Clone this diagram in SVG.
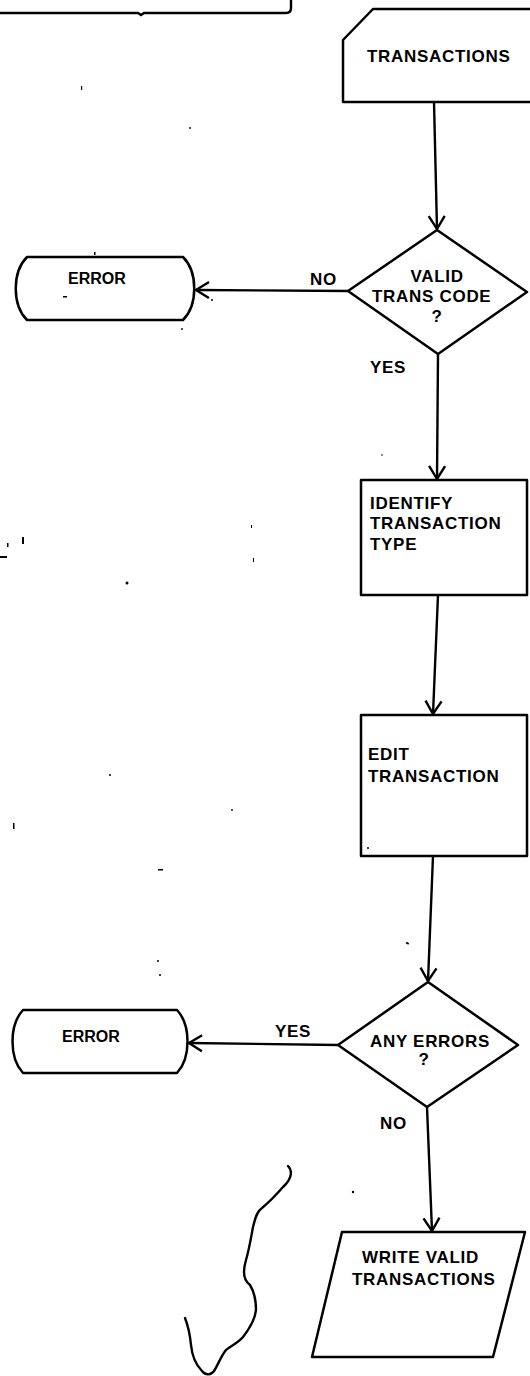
<svg xmlns="http://www.w3.org/2000/svg" width="530" height="1376" viewBox="0 0 530 1376">
<style>
.s{fill:#fff;stroke:#000;stroke-width:2.5;stroke-linejoin:round}
.c{fill:none;stroke:#000;stroke-width:2.4}
.t{font-family:"Liberation Sans",Arial,sans-serif;font-weight:bold;font-size:17px;letter-spacing:0.7px;fill:#000}
.e{font-size:16px;letter-spacing:0}
.n{fill:#000}
</style>
<defs>
<marker id="ah" markerUnits="userSpaceOnUse" markerWidth="20" markerHeight="20" viewBox="-16 -10 18 20" refX="0" refY="0" orient="auto">
<path d="M-13,-8 L0,0 L-13,8" fill="none" stroke="#000" stroke-width="2.4"/>
</marker>
</defs>
<rect width="530" height="1376" fill="#fff"/>

<g id="top-fragment">
<path class="c" d="M0,13 L138,13 L141,15 L144,13 L286,13 Q291,13 291,8 L291,0"/>
</g>

<g id="transactions-card">
<path class="s" d="M343,102 L343,40 L373,9 L536,9 L536,102 Z"/>
<text class="t" x="367" y="62">TRANSACTIONS</text>
</g>

<g id="valid-code">
<path class="s" d="M437,230 L527,292 L438,354 L348,291 Z"/>
<text class="t" x="437" y="282" text-anchor="middle">VALID</text>
<text class="t" x="372" y="302">TRANS CODE</text>
<text class="t" x="437" y="322" text-anchor="middle">?</text>
</g>

<g id="error-1">
<path class="s" d="M27,257 L183,257 C198,272 198,305 183,320 L27,320 C12,305 12,272 27,257 Z"/>
<text class="t e" x="68" y="284">ERROR</text>
</g>

<g id="identify">
<rect class="s" x="361" y="480" width="166" height="115"/>
<text class="t" x="370" y="509">IDENTIFY</text>
<text class="t" x="370" y="529">TRANSACTION</text>
<text class="t" x="370" y="550">TYPE</text>
</g>

<g id="edit">
<rect class="s" x="361" y="715" width="166" height="141"/>
<text class="t" x="368" y="760">EDIT</text>
<text class="t" x="368" y="782">TRANSACTION</text>
</g>

<g id="any-errors">
<path class="s" d="M428,982 L518,1045 L427,1107 L338,1045 Z"/>
<text class="t" x="370" y="1047">ANY ERRORS</text>
<text class="t" x="424" y="1065" text-anchor="middle">?</text>
</g>

<g id="error-2">
<path class="s" d="M23,1010 L177,1010 C191,1025 191,1058 177,1073 L23,1073 C9,1058 9,1025 23,1010 Z"/>
<text class="t e" x="62" y="1042">ERROR</text>
</g>

<g id="write-valid">
<path class="s" d="M342,1232 L525,1232 L493,1357 L312,1357 Z"/>
<text class="t" x="362" y="1263">WRITE VALID</text>
<text class="t" x="352" y="1285">TRANSACTIONS</text>
</g>

<g id="connectors">
<path class="c" d="M434,102 L437,229" marker-end="url(#ah)"/>
<path class="c" d="M348,291 L196,290" marker-end="url(#ah)"/>
<path class="c" d="M438,354 L437,479" marker-end="url(#ah)"/>
<path class="c" d="M438,595 L433,714" marker-end="url(#ah)"/>
<path class="c" d="M433,856 L428,981" marker-end="url(#ah)"/>
<path class="c" d="M338,1045 L189,1043" marker-end="url(#ah)"/>
<path class="c" d="M427,1107 L432,1231" marker-end="url(#ah)"/>
</g>

<g id="labels">
<text class="t" x="310" y="285">NO</text>
<text class="t" x="370" y="373">YES</text>
<text class="t" x="275" y="1037">YES</text>
<text class="t" x="380" y="1129">NO</text>
</g>

<g id="squiggle">
<path class="c" stroke-width="1.8" stroke-linecap="round" d="M288,1166 C292,1170 293,1178 283,1187 C276,1195 268,1203 262,1208 C256,1212 255,1220 253,1227 C251,1238 249,1250 246,1260 C243,1270 243,1280 250,1285 C255,1293 256,1303 256,1310 C255,1320 250,1328 243,1337 C237,1344 230,1346 226,1350 C221,1356 218,1365 214,1371 C211,1375 206,1376 202,1371 C196,1365 192,1355 191,1345 C190,1335 189,1328 185,1318"/>
</g>

<g id="specks">
<rect class="n" x="81" y="86" width="1.2" height="4"/>
<circle class="n" cx="190" cy="128" r="0.9"/>
<rect class="n" x="94" y="252" width="1.5" height="3"/>
<circle class="n" cx="182" cy="329" r="0.9"/>
<rect class="n" x="63" y="296" width="4" height="1.5"/>
<circle class="n" cx="212" cy="300" r="1"/>
<rect class="n" x="0" y="556" width="7" height="2"/>
<rect class="n" x="7" y="543" width="1.5" height="4"/>
<rect class="n" x="22" y="537" width="2" height="7"/>
<circle class="n" cx="127" cy="583" r="1.5"/>
<rect class="n" x="251" y="525" width="1" height="3"/>
<rect class="n" x="253" y="558" width="1" height="4"/>
<circle class="n" cx="382" cy="455" r="0.8"/>
<rect class="n" x="158" y="869" width="5" height="1.5"/>
<circle class="n" cx="110" cy="775" r="1"/>
<rect class="n" x="13" y="823" width="1.5" height="6"/>
<circle class="n" cx="232" cy="810" r="0.9"/>
<circle class="n" cx="158" cy="961" r="1"/>
<circle class="n" cx="160" cy="975" r="1"/>
<rect class="n" x="406" y="942" width="3" height="2" transform="rotate(30 407 943)"/>
<circle class="n" cx="368" cy="848" r="1"/>
<circle class="n" cx="353" cy="1192" r="1.2"/>
</g>
</svg>
